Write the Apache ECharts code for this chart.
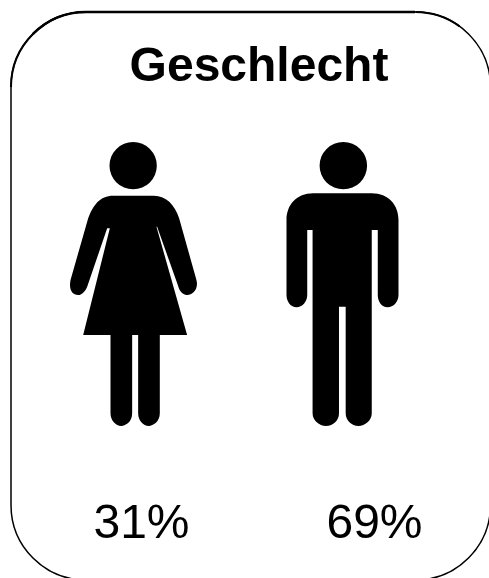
<!DOCTYPE html>
<html>
<head>
<meta charset="utf-8">
<title>Geschlecht</title>
<script src="https://cdn.jsdelivr.net/npm/echarts@6/dist/echarts.min.js"></script>
<style>
    html, body { margin: 0; padding: 0; background: #fff; }
    #chart { width: 489px; height: 578px; }
</style>
</head>
<body>
<div id="chart"></div>
<script>
const categories = ['Frauen', 'Männer'];
const shares = [31, 69];

const womanPath = 'path://M250 36A71 71 0 1 1 250 178A71 71 0 1 1 250 36Z' +
    'M190 197L312 197C350 197 375 225 388 265L440 450C448 480 425 497 410 495C395 493 388 480 384 465L322 290L320 290L412 615L330 615L330 850C330 875 310 888 297 888C280 888 265 872 265 850L265 615L247 615L247 850C247 875 228 888 214 888C198 888 182 872 182 850L182 615L100 615L180 295L172 295L112 470C106 485 95 495 85 495C68 495 56 480 62 450L115 265C130 225 150 197 190 197Z';
const manPath = 'path://M220 36A71 71 0 1 1 220 178A71 71 0 1 1 220 36Z' +
    'M130 190L305 190C355 190 385 225 385 270L385 495C385 515 370 532 352 532C335 532 323 515 323 495L323 300L305 300L305 850C305 872 285 888 265 888C245 888 227 872 227 850L227 530L207 530L207 850C207 872 190 888 168 888C148 888 128 872 128 850L128 300L112 300L112 495C112 515 97 532 80 532C63 532 50 515 50 495L50 270C50 225 80 190 130 190Z';

const chart = echarts.init(document.getElementById('chart'), null, { renderer: 'canvas' });
chart.setOption({
    animation: false,
    backgroundColor: '#fff',
    title: {
        text: 'Geschlecht',
        left: 254,
        top: 39,
        textAlign: 'center',
        textStyle: { fontFamily: 'Liberation Sans', fontSize: 48, fontWeight: 'bold', color: '#000' }
    },
    grid: { left: 29, right: 42, top: 60, bottom: 152 },
    xAxis: { type: 'category', data: categories, show: false },
    yAxis: { type: 'value', min: 0, max: 100, show: false },
    graphic: [{
        type: 'rect',
        shape: { x: 11, y: 12, width: 479.5, height: 568, r: 75 },
        style: { fill: 'none', stroke: '#000', lineWidth: 1.5 }
    }, {
        // frame gets heavier towards the top edge
        type: 'arc',
        shape: { cx: 86, cy: 87, r: 75, startAngle: Math.PI, endAngle: Math.PI * 1.5 },
        style: { fill: 'none', stroke: '#000', lineWidth: 2 }
    }, {
        type: 'arc',
        shape: { cx: 86, cy: 87, r: 75, startAngle: Math.PI * 1.25, endAngle: Math.PI * 1.5 },
        style: { fill: 'none', stroke: '#000', lineWidth: 2.5 }
    }, {
        type: 'line',
        shape: { x1: 86, y1: 12, x2: 415, y2: 12 },
        style: { stroke: '#000', lineWidth: 2.5 }
    }, {
        type: 'arc',
        shape: { cx: 415.5, cy: 87, r: 75, startAngle: Math.PI * 1.5, endAngle: Math.PI * 1.7 },
        style: { fill: 'none', stroke: '#000', lineWidth: 2 }
    }],
    series: [{
        type: 'pictorialBar',
        symbolPosition: 'start',
        barWidth: 130,
        itemStyle: { color: '#000' },
        label: {
            show: true,
            position: 'bottom',
            formatter: '{c}%',
            fontFamily: 'Liberation Sans',
            fontSize: 48,
            color: '#000'
        },
        data: [
            { value: shares[0], symbol: womanPath, symbolSize: [127, 284], label: { offset: [8, 70] } },
            { value: shares[1], symbol: manPath, symbolSize: [112, 284], label: { offset: [32, 70] } }
        ]
    }]
});
</script>
</body>
</html>
